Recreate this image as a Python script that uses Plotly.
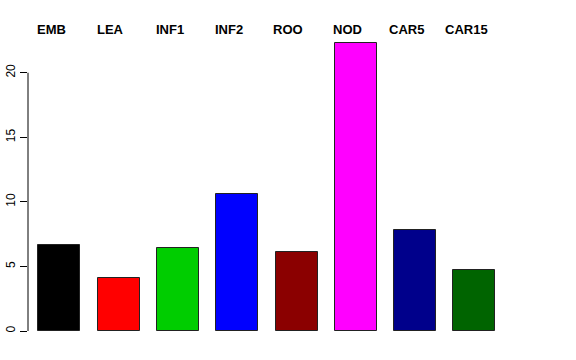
import plotly.graph_objects as go

categories = ["EMB", "LEA", "INF1", "INF2", "ROO", "NOD", "CAR5", "CAR15"]
values = [6.63, 4.10, 6.42, 10.6, 6.11, 22.3, 7.86, 4.74]
colors = ["#000000", "#FF0000", "#00CD00", "#0000FF", "#8B0000", "#FF00FF", "#00008B", "#006400"]
tick_vals = [0, 5, 10, 15, 20]

xpos = list(range(len(categories)))

fig = go.Figure()
fig.add_trace(go.Bar(
    x=xpos, y=values, width=0.708,
    marker=dict(color=colors, line=dict(color="#222222", width=1)),
    hoverinfo="x+y",
))

W, H = 576, 360
l, r, b = 28, 72, 29
ymax = 23.0
plot_h = ymax * 12.93
t = H - b - plot_h

for i, c in enumerate(categories):
    fig.add_annotation(
        x=i - 0.14, xref="x", y=(331 - 29) / plot_h, yref="paper",
        text="<b>%s</b>" % c, showarrow=False, xanchor="center", yanchor="middle",
        font=dict(family="Liberation Sans, Arial, sans-serif", size=13, color="black"),
    )

fig.add_shape(type="line", xref="paper", x0=0, x1=0, yref="y", y0=0, y1=20,
              line=dict(color="black", width=1))

fig.update_layout(
    width=W, height=H,
    margin=dict(l=l, r=r, t=t, b=b, pad=0, autoexpand=False),
    paper_bgcolor="white", plot_bgcolor="white",
    showlegend=False,
    font=dict(family="Liberation Sans, Arial, sans-serif", color="black"),
    xaxis=dict(range=[-0.53, 7.5], showticklabels=False, showgrid=False,
               zeroline=False, showline=False, ticks="", automargin=False),
    yaxis=dict(range=[0, ymax], tickvals=tick_vals, ticktext=[str(v) for v in tick_vals],
               ticks="outside", ticklen=7, tickwidth=1, tickcolor="black",
               tickangle=-90, tickfont=dict(size=12, color="black"),
               showgrid=False, zeroline=False, showline=False, automargin=False),
    bargap=0,
)

fig.write_html(
    "out.html",
    config={"displayModeBar": False},
    post_script="document.body.style.margin='0';document.body.style.overflow='hidden';",
)
